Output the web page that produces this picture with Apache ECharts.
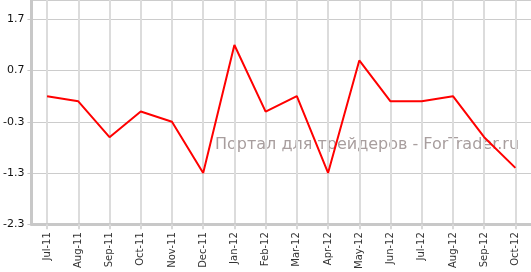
<!DOCTYPE html>
<html><head><meta charset="utf-8">
<script src="https://cdn.jsdelivr.net/npm/echarts@6/dist/echarts.min.js"></script>
<style>html,body{margin:0;padding:0;background:#fff}#c{width:531px;height:272px}</style>
</head><body><div id="c"></div>
<script>
const categories = ['Jul-11','Aug-11','Sep-11','Oct-11','Nov-11','Dec-11','Jan-12','Feb-12','Mar-12','Apr-12','May-12','Jun-12','Jul-12','Aug-12','Sep-12','Oct-12'];
const values = [0.2, 0.1, -0.6, -0.1, -0.3, -1.3, 1.2, -0.1, 0.2, -1.3, 0.9, 0.1, 0.1, 0.2, -0.6, -1.2];
const yTicks = [-2.3, -1.3, -0.3, 0.7, 1.7];
const watermark = 'Портал для трейдеров - ForTrader.ru';

const chart = echarts.init(document.getElementById('c'), null, {renderer:'canvas'});
chart.setOption({
  animation: false,
  backgroundColor: '#fff',
  grid: {left: 26, right: 0, top: 0, bottom: 40, containLabel: false},
  xAxis: {
    type: 'category', data: categories, boundaryGap: true,
    axisLine: {onZero: false, lineStyle: {color: '#c8c8c8', width: 3}},
    axisTick: {show: true, alignWithLabel: true, length: 5, lineStyle: {color: '#d8d8d8', width: 2}},
    axisLabel: {rotate: 90, margin: 8, fontFamily: 'DejaVu Sans', fontSize: 10, color: '#333', interval: 0},
    splitLine: {show: true, alignWithLabel: true, interval: 0, lineStyle: {color: '#dcdcdc', width: 2}}
  },
  yAxis: {
    type: 'value', min: yTicks[0], max: 2.08, interval: 1,
    axisLine: {show: true, lineStyle: {color: '#c8c8c8', width: 3}},
    axisTick: {show: true, length: 4, lineStyle: {color: '#c8c8c8', width: 1}},
    axisLabel: {fontFamily: 'DejaVu Sans', fontSize: 11, color: '#111', margin: 7,
      formatter: v => (Math.round(v*10)/10).toFixed(1), showMaxLabel: false},
    splitLine: {show: true, lineStyle: {color: '#cccccc', width: 1}}
  },
  graphic: [{type: 'text', left: 215, top: 137, z: 0, zlevel: 0,
    style: {text: watermark, font: '16px "DejaVu Sans"', fill: '#a89e9e'}}],
  series: [{type: 'line', data: values, symbol: 'none', z: 5, zlevel: 1,
    lineStyle: {color: '#ff0000', width: 2}}]
});
</script></body></html>
